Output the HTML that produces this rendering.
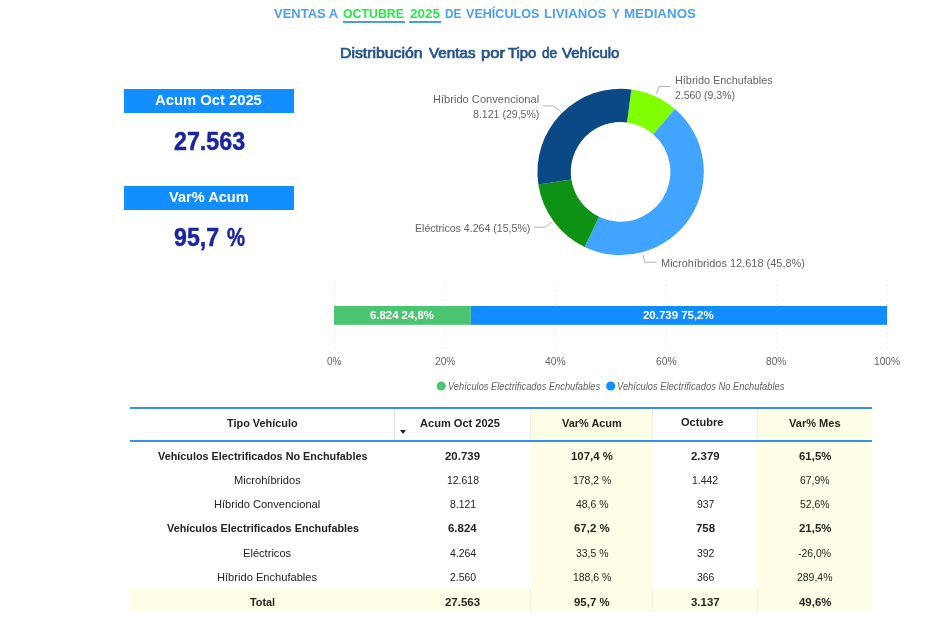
<!DOCTYPE html>
<html lang="es">
<head>
<meta charset="utf-8">
<title>Ventas a Octubre 2025</title>
<style>
html,body{margin:0;padding:0;background:#fff;}
body{width:947px;height:620px;position:relative;overflow:hidden;font-family:"Liberation Sans",sans-serif;color:#252423;}
.t{position:absolute;white-space:nowrap;line-height:1;transform-origin:0 0;}
.t u{color:#27E84A;text-decoration:none;border-bottom:2px solid #4A9BE8;padding-bottom:0.5px;}
.b{position:absolute;}
svg{position:absolute;left:0;top:0;}
</style>
</head>
<body>
<div class="b" style="left:124px;top:89px;width:170px;height:23.6px;background:#128EFF"></div>
<div class="b" style="left:124px;top:186px;width:170px;height:23.7px;background:#128EFF"></div>
<svg width="947" height="620" viewBox="0 0 947 620">
  <g>
    <path d="M631.32,89.39 A83.2,83.2 0 0 1 675.00,108.95 L653.16,134.22 A49.8,49.8 0 0 0 627.01,122.51 Z" fill="#80FF00"/>
    <path d="M675.00,108.95 A83.2,83.2 0 0 1 584.60,246.91 L599.05,216.80 A49.8,49.8 0 0 0 653.16,134.22 Z" fill="#41A4FF"/>
    <path d="M584.60,246.91 A83.2,83.2 0 0 1 538.35,184.44 L571.37,179.41 A49.8,49.8 0 0 0 599.05,216.80 Z" fill="#0E9216"/>
    <path d="M538.35,184.44 A83.2,83.2 0 0 1 631.32,89.39 L627.01,122.51 A49.8,49.8 0 0 0 571.37,179.41 Z" fill="#0B4986"/>
  </g>
  <g stroke="#B3B3B3" stroke-width="1" fill="none">
    <polyline points="656.2,93.9 659,86.5 670.4,86.5"/>
    <polyline points="560.7,111.6 553,105.9 543.2,105.9"/>
    <polyline points="552,222.1 545.4,227.2 534,227.2"/>
    <polyline points="642.9,254.7 644.8,262.3 656.6,262.3"/>
  </g>
  <g stroke="#E2E2E2" stroke-width="1" stroke-dasharray="1,3.8">
    <line x1="334.5" y1="280" x2="334.5" y2="352"/>
    <line x1="445" y1="280" x2="445" y2="352"/>
    <line x1="555.5" y1="280" x2="555.5" y2="352"/>
    <line x1="666" y1="280" x2="666" y2="352"/>
    <line x1="776.5" y1="280" x2="776.5" y2="352"/>
    <line x1="887.5" y1="280" x2="887.5" y2="352"/>
  </g>
  <rect x="334" y="306" width="136.8" height="18.8" fill="#4CC572"/>
  <rect x="470.8" y="306" width="416.2" height="18.8" fill="#118DFF"/>
  <circle cx="441.2" cy="386" r="4.6" fill="#4CC572"/>
  <circle cx="610.7" cy="386" r="4.6" fill="#118DFF"/>
</svg>
<div class="b" style="left:343.2px;top:20.5px;width:61.7px;height:2px;background:#4A9BE8"></div>
<div class="b" style="left:409.1px;top:20.5px;width:31.8px;height:2px;background:#4A9BE8"></div>
<div class="b" style="left:530.8px;top:409px;width:122px;height:202.6px;background:#FEFEE6"></div>
<div class="b" style="left:757px;top:409px;width:115px;height:202.6px;background:#FEFEE6"></div>
<div class="b" style="left:130px;top:589px;width:742px;height:22.6px;background:#FEFEE6"></div>
<div class="b" style="left:130px;top:407.2px;width:742px;height:2.2px;background:#3391E8"></div>
<div class="b" style="left:130px;top:440px;width:742px;height:2.2px;background:#3391E8"></div>
<div class="b" style="left:394px;top:409.4px;width:1px;height:30.6px;background:#E0E0E0"></div>
<div class="b" style="left:530.4px;top:409.4px;width:1px;height:30.6px;background:#F0F0E4"></div>
<div class="b" style="left:530.4px;top:589px;width:1px;height:22.6px;background:#F4F4DE"></div>
<div class="b" style="left:652.2px;top:409.4px;width:1px;height:30.6px;background:#F0F0E4"></div>
<div class="b" style="left:652.2px;top:589px;width:1px;height:22.6px;background:#F4F4DE"></div>
<div class="b" style="left:757px;top:409.4px;width:1px;height:30.6px;background:#F0F0E4"></div>
<div class="b" style="left:757px;top:589px;width:1px;height:22.6px;background:#F4F4DE"></div>
<div class="b" style="left:399.8px;top:430.2px;width:0;height:0;border-left:3.6px solid transparent;border-right:3.6px solid transparent;border-top:4px solid #252423"></div>
<div id="txt" style="position:absolute;left:0;top:0;width:947px;height:620px;will-change:transform;">
<div class="t" style="left:274.40px;top:6.71px;font-size:13.4px;color:#4BA0F0;transform:scaleX(0.9696);font-weight:bold;">VENTAS A</div>
<div class="t" style="left:343.40px;top:6.71px;font-size:13.4px;color:#27E84A;transform:scaleX(0.9204);font-weight:bold;">OCTUBRE</div>
<div class="t" style="left:409.70px;top:6.71px;font-size:13.4px;color:#27E84A;transform:scaleX(1.0052);font-weight:bold;">2025</div>
<div class="t" style="left:445.20px;top:6.71px;font-size:13.4px;color:#4BA0F0;transform:scaleX(0.8784);font-weight:bold;">DE</div>
<div class="t" style="left:466.40px;top:6.71px;font-size:13.4px;color:#4BA0F0;transform:scaleX(0.9387);font-weight:bold;">VEHÍCULOS</div>
<div class="t" style="left:544.40px;top:6.71px;font-size:13.4px;color:#4BA0F0;transform:scaleX(0.9872);font-weight:bold;">LIVIANOS</div>
<div class="t" style="left:612.20px;top:6.71px;font-size:13.4px;color:#4BA0F0;transform:scaleX(0.8667);font-weight:bold;">Y</div>
<div class="t" style="left:624.20px;top:6.71px;font-size:13.4px;color:#4BA0F0;transform:scaleX(0.9968);font-weight:bold;">MEDIANOS</div>
<div class="t" style="left:340.23px;top:46.32px;font-size:14.8px;color:#24548A;transform:scaleX(1.0687);-webkit-text-stroke:0.7px #24548A;">Distribución</div>
<div class="t" style="left:428.80px;top:46.32px;font-size:14.8px;color:#24548A;transform:scaleX(1.0278);-webkit-text-stroke:0.7px #24548A;">Ventas</div>
<div class="t" style="left:480.80px;top:46.32px;font-size:14.8px;color:#24548A;transform:scaleX(1.1184);-webkit-text-stroke:0.7px #24548A;">por</div>
<div class="t" style="left:508.10px;top:46.32px;font-size:14.8px;color:#24548A;transform:scaleX(1.0034);-webkit-text-stroke:0.7px #24548A;">Tipo</div>
<div class="t" style="left:541.80px;top:46.32px;font-size:14.8px;color:#24548A;transform:scaleX(0.9243);-webkit-text-stroke:0.7px #24548A;">de</div>
<div class="t" style="left:562.40px;top:46.32px;font-size:14.8px;color:#24548A;transform:scaleX(1.0117);-webkit-text-stroke:0.7px #24548A;">Vehículo</div>
<div class="t" style="left:154.80px;top:94.37px;font-size:13.8px;color:#fff;transform:scaleX(1.0718);font-weight:bold;">Acum Oct 2025</div>
<div class="t" style="left:168.50px;top:191.37px;font-size:13.8px;color:#fff;transform:scaleX(1.0562);font-weight:bold;">Var% Acum</div>
<div class="t" style="left:173.60px;top:128.77px;font-size:25.8px;color:#1C269E;transform:scaleX(0.9013);font-weight:bold;-webkit-text-stroke:0.5px #1C269E;">27.563</div>
<div class="t" style="left:173.90px;top:225.17px;font-size:25.8px;color:#1C269E;transform:scaleX(0.8985);font-weight:bold;-webkit-text-stroke:0.5px #1C269E;">95,7</div>
<div class="t" style="left:226.90px;top:225.17px;font-size:25.8px;color:#1C269E;transform:scaleX(0.7870);font-weight:bold;-webkit-text-stroke:0.5px #1C269E;">%</div>
<div class="t" style="left:674.80px;top:74.75px;font-size:11px;color:#666462;transform:scaleX(0.9863);">Híbrido Enchufables</div>
<div class="t" style="left:674.80px;top:89.75px;font-size:11px;color:#666462;transform:scaleX(0.9516);">2.560 (9,3%)</div>
<div class="t" style="left:432.70px;top:93.75px;font-size:11px;color:#666462;transform:scaleX(1.0093);">Híbrido Convencional</div>
<div class="t" style="left:472.65px;top:108.75px;font-size:11px;color:#666462;transform:scaleX(0.9608);">8.121 (29,5%)</div>
<div class="t" style="left:414.60px;top:222.75px;font-size:11px;color:#666462;transform:scaleX(0.9625);">Eléctricos 4.264 (15,5%)</div>
<div class="t" style="left:660.60px;top:257.75px;font-size:11px;color:#666462;transform:scaleX(0.9977);">Microhíbridos 12.618 (45,8%)</div>
<div class="t" style="left:370.00px;top:309.92px;font-size:10.8px;color:#fff;transform:scaleX(1.0535);font-weight:bold;">6.824 24,8%</div>
<div class="t" style="left:643.00px;top:309.92px;font-size:10.8px;color:#fff;transform:scaleX(1.0606);font-weight:bold;">20.739 75,2%</div>
<div class="t" style="left:326.90px;top:355.75px;font-size:11px;color:#666462;transform:scaleX(0.9058);">0%</div>
<div class="t" style="left:434.70px;top:355.75px;font-size:11px;color:#666462;transform:scaleX(0.9265);">20%</div>
<div class="t" style="left:545.10px;top:355.75px;font-size:11px;color:#666462;transform:scaleX(0.9354);">40%</div>
<div class="t" style="left:655.70px;top:355.75px;font-size:11px;color:#666462;transform:scaleX(0.9354);">60%</div>
<div class="t" style="left:766.30px;top:355.75px;font-size:11px;color:#666462;transform:scaleX(0.9265);">80%</div>
<div class="t" style="left:874.20px;top:355.75px;font-size:11px;color:#666462;transform:scaleX(0.9241);">100%</div>
<div class="t" style="left:448.00px;top:381.18px;font-size:10.5px;color:#666462;transform:scaleX(0.8850);font-style:italic;">Vehículos Electrificados Enchufables</div>
<div class="t" style="left:617.30px;top:381.18px;font-size:10.5px;color:#666462;transform:scaleX(0.8900);font-style:italic;">Vehículos Electrificados No Enchufables</div>
<div class="t" style="left:227.00px;top:417.75px;font-size:11px;color:#252423;transform:scaleX(0.9918);font-weight:bold;">Tipo Vehículo</div>
<div class="t" style="left:420.30px;top:417.75px;font-size:11px;color:#252423;transform:scaleX(1.0055);font-weight:bold;">Acum Oct 2025</div>
<div class="t" style="left:561.60px;top:417.75px;font-size:11px;color:#252423;transform:scaleX(0.9943);font-weight:bold;">Var% Acum</div>
<div class="t" style="left:680.90px;top:416.75px;font-size:11px;color:#252423;transform:scaleX(1.0034);font-weight:bold;">Octubre</div>
<div class="t" style="left:789.20px;top:417.75px;font-size:11px;color:#252423;transform:scaleX(1.0030);font-weight:bold;">Var% Mes</div>
<div class="t" style="left:157.99px;top:450.75px;font-size:11px;color:#252423;transform:scaleX(0.9850);font-weight:bold;">Vehículos Electrificados No Enchufables</div>
<div class="t" style="left:445.17px;top:450.75px;font-size:11px;color:#252423;transform:scaleX(1.0400);font-weight:bold;">20.739</div>
<div class="t" style="left:571.10px;top:450.75px;font-size:11px;color:#252423;transform:scaleX(1.0400);font-weight:bold;">107,4 %</div>
<div class="t" style="left:690.95px;top:450.75px;font-size:11px;color:#252423;transform:scaleX(1.0400);font-weight:bold;">2.379</div>
<div class="t" style="left:798.67px;top:450.75px;font-size:11px;color:#252423;transform:scaleX(1.0400);font-weight:bold;">61,5%</div>
<div class="t" style="left:233.71px;top:474.75px;font-size:11px;color:#252423;transform:scaleX(1.0100);">Microhíbridos</div>
<div class="t" style="left:446.67px;top:474.75px;font-size:11px;color:#252423;transform:scaleX(0.9500);">12.618</div>
<div class="t" style="left:572.92px;top:474.75px;font-size:11px;color:#252423;transform:scaleX(0.9500);">178,2 %</div>
<div class="t" style="left:692.18px;top:474.75px;font-size:11px;color:#252423;transform:scaleX(0.9500);">1.442</div>
<div class="t" style="left:800.08px;top:474.75px;font-size:11px;color:#252423;transform:scaleX(0.9500);">67,9%</div>
<div class="t" style="left:214.41px;top:498.75px;font-size:11px;color:#252423;transform:scaleX(1.0100);">Híbrido Convencional</div>
<div class="t" style="left:449.58px;top:498.75px;font-size:11px;color:#252423;transform:scaleX(0.9500);">8.121</div>
<div class="t" style="left:575.83px;top:498.75px;font-size:11px;color:#252423;transform:scaleX(0.9500);">48,6 %</div>
<div class="t" style="left:696.54px;top:498.75px;font-size:11px;color:#252423;transform:scaleX(0.9500);">937</div>
<div class="t" style="left:800.08px;top:498.75px;font-size:11px;color:#252423;transform:scaleX(0.9500);">52,6%</div>
<div class="t" style="left:166.72px;top:522.75px;font-size:11px;color:#252423;transform:scaleX(0.9850);font-weight:bold;">Vehículos Electrificados Enchufables</div>
<div class="t" style="left:447.83px;top:522.75px;font-size:11px;color:#252423;transform:scaleX(1.0400);font-weight:bold;">6.824</div>
<div class="t" style="left:574.28px;top:522.75px;font-size:11px;color:#252423;transform:scaleX(1.0400);font-weight:bold;">67,2 %</div>
<div class="t" style="left:695.72px;top:522.75px;font-size:11px;color:#252423;transform:scaleX(1.0400);font-weight:bold;">758</div>
<div class="t" style="left:798.67px;top:522.75px;font-size:11px;color:#252423;transform:scaleX(1.0400);font-weight:bold;">21,5%</div>
<div class="t" style="left:242.97px;top:547.75px;font-size:11px;color:#252423;transform:scaleX(1.0100);">Eléctricos</div>
<div class="t" style="left:449.58px;top:547.75px;font-size:11px;color:#252423;transform:scaleX(0.9500);">4.264</div>
<div class="t" style="left:575.83px;top:547.75px;font-size:11px;color:#252423;transform:scaleX(0.9500);">33,5 %</div>
<div class="t" style="left:696.54px;top:547.75px;font-size:11px;color:#252423;transform:scaleX(0.9500);">392</div>
<div class="t" style="left:798.34px;top:547.75px;font-size:11px;color:#252423;transform:scaleX(0.9500);">-26,0%</div>
<div class="t" style="left:217.02px;top:571.75px;font-size:11px;color:#252423;transform:scaleX(1.0100);">Híbrido Enchufables</div>
<div class="t" style="left:449.58px;top:571.75px;font-size:11px;color:#252423;transform:scaleX(0.9500);">2.560</div>
<div class="t" style="left:572.92px;top:571.75px;font-size:11px;color:#252423;transform:scaleX(0.9500);">188,6 %</div>
<div class="t" style="left:696.54px;top:571.75px;font-size:11px;color:#252423;transform:scaleX(0.9500);">366</div>
<div class="t" style="left:797.17px;top:571.75px;font-size:11px;color:#252423;transform:scaleX(0.9500);">289,4%</div>
<div class="t" style="left:250.19px;top:596.75px;font-size:11px;color:#252423;transform:scaleX(0.9850);font-weight:bold;">Total</div>
<div class="t" style="left:445.17px;top:596.75px;font-size:11px;color:#252423;transform:scaleX(1.0400);font-weight:bold;">27.563</div>
<div class="t" style="left:574.28px;top:596.75px;font-size:11px;color:#252423;transform:scaleX(1.0400);font-weight:bold;">95,7 %</div>
<div class="t" style="left:690.95px;top:596.75px;font-size:11px;color:#252423;transform:scaleX(1.0400);font-weight:bold;">3.137</div>
<div class="t" style="left:798.67px;top:596.75px;font-size:11px;color:#252423;transform:scaleX(1.0400);font-weight:bold;">49,6%</div>
</div>
</body>
</html>
